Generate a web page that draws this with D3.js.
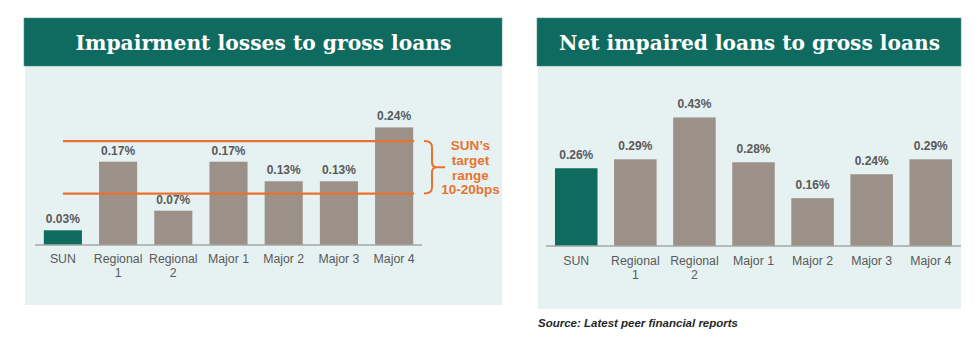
<!DOCTYPE html>
<html>
<head>
<meta charset="utf-8">
<script src="https://cdn.jsdelivr.net/npm/d3@7"></script>
<style>
  html, body { margin: 0; padding: 0; background: #ffffff; }
  svg { display: block; }
</style>
</head>
<body>
<svg id="chart" width="975" height="355"></svg>
<script>
// ---------- data ----------
const categories = ["SUN", "Regional 1", "Regional 2", "Major 1", "Major 2", "Major 3", "Major 4"];
const impairmentLosses = [0.03, 0.17, 0.07, 0.17, 0.13, 0.13, 0.24];
const netImpairedLoans = [0.26, 0.29, 0.43, 0.28, 0.16, 0.24, 0.29];
const targetRange = [0.105, 0.212];
const targetLabel = ["SUN\u2019s", "target", "range", "10-20bps"];
const titles = ["Impairment losses to gross loans", "Net impaired loans to gross loans"];
const sourceNote = "Source: Latest peer financial reports";

// ---------- styles ----------
const C = {
  header: "#0f6b60",
  panel: "#e6f2f2",
  sun: "#0e6b5e",
  peer: "#9c9189",
  text: "#595959",
  orange: "#e9722e",
  axis: "#a6a6a6"
};

const svg = d3.select("#chart");

function catLines(c) {
  const m = c.match(/^(Regional) (\d)$/);
  return m ? [m[1], m[2]] : [c];
}

function panel(opts) {
  const g = svg.append("g");
  // background
  g.append("rect").attr("x", opts.px).attr("y", 66).attr("width", opts.pw).attr("height", opts.ph)
    .attr("fill", C.panel);
  // header
  g.append("rect").attr("x", opts.px - 1).attr("y", 18).attr("width", opts.pw + 1).attr("height", 48)
    .attr("fill", C.header).attr("stroke", "#4f8f86").attr("stroke-width", 0.6);
  g.append("text").attr("x", opts.px + opts.pw / 2).attr("y", 50)
    .attr("text-anchor", "middle").attr("fill", "#ffffff")
    .attr("font-family", "Georgia, 'DejaVu Serif', 'Liberation Serif', serif")
    .attr("font-weight", "bold").attr("font-size", 21)
    .attr("textLength", opts.titleW).attr("lengthAdjust", "spacingAndGlyphs")
    .text(opts.title);

  const x = d3.scaleBand().domain(categories).range(opts.xr)
    .paddingInner(opts.pi).paddingOuter(opts.po);
  const y = d3.scaleLinear().domain([0, 0.5]).range([opts.base, opts.base - 0.5 * opts.ppu]);

  // bars
  g.selectAll("rect.bar").data(opts.values).join("rect").attr("class", "bar")
    .attr("x", (d, i) => x(categories[i]))
    .attr("width", x.bandwidth())
    .attr("y", d => y(d))
    .attr("height", d => y(0) - y(d))
    .attr("fill", (d, i) => i === 0 ? C.sun : C.peer);

  // value labels
  g.selectAll("text.val").data(opts.values).join("text").attr("class", "val")
    .attr("x", (d, i) => x(categories[i]) + x.bandwidth() / 2)
    .attr("y", d => y(d) - opts.labelGap)
    .attr("text-anchor", "middle").attr("fill", C.text)
    .attr("font-family", "Arial, 'Liberation Sans', sans-serif")
    .attr("font-weight", "bold").attr("font-size", 12)
    .text(d => d.toFixed(2) + "%");

  // axis
  const axis = d3.axisBottom(x).tickSize(0).tickPadding(0).tickFormat("");
  const ag = g.append("g").attr("transform", `translate(0,${opts.base})`).call(axis);
  ag.select(".domain").attr("stroke", C.axis).attr("stroke-width", 1.5)
    .attr("d", `M${opts.xr[0]},0H${opts.xr[1]}`);
  ag.selectAll(".tick").each(function(c) {
    const t = d3.select(this).append("text")
      .attr("fill", C.text).attr("text-anchor", "middle")
      .attr("font-family", "Arial, 'Liberation Sans', sans-serif")
      .attr("font-size", 12.3).attr("y", opts.catY);
    catLines(c).forEach((l, k) => {
      t.append("tspan").attr("x", 0).attr("dy", k === 0 ? 0 : 14).text(l);
    });
  });
  return { g, x, y };
}

// ---------- left panel ----------
const L = panel({
  px: 25, pw: 477, ph: 239, title: titles[0], titleW: 376,
  values: impairmentLosses, xr: [35, 422], pi: 0.31, po: 0.16,
  base: 245, ppu: 490, labelGap: 7, catY: 18
});

// target lines
const lx1 = L.x(categories[0]) + L.x.bandwidth() / 2;
const lx2 = L.x(categories[6]) + L.x.bandwidth() + 1;
L.g.selectAll("line.target").data(targetRange).join("line").attr("class", "target")
  .attr("x1", lx1).attr("x2", lx2)
  .attr("y1", d => L.y(d)).attr("y2", d => L.y(d))
  .attr("stroke", C.orange).attr("stroke-width", 2.2);

// brace
const yt = L.y(targetRange[1]), yb = L.y(targetRange[0]), ym = (yt + yb) / 2;
const bx = 424, bv = 432;
L.g.append("path")
  .attr("d", `M${bx},${yt} Q${bv},${yt} ${bv},${yt + 6} L${bv},${ym - 5} Q${bv},${ym} ${bv + 5},${ym} L${bv + 13},${ym}
              M${bv + 5},${ym} Q${bv},${ym} ${bv},${ym + 5} L${bv},${yb - 6} Q${bv},${yb} ${bx},${yb}`)
  .attr("fill", "none").attr("stroke", C.orange).attr("stroke-width", 2);

const tl = L.g.append("text").attr("fill", C.orange).attr("text-anchor", "middle")
  .attr("font-family", "Arial, 'Liberation Sans', sans-serif")
  .attr("font-weight", "bold").attr("font-size", 13.5);
targetLabel.forEach((s, k) => {
  tl.append("tspan").attr("x", 470.5).attr("y", 150 + k * 14.8).text(s);
});

// ---------- right panel ----------
const R = panel({
  px: 538, pw: 423, ph: 243, title: titles[1], titleW: 381,
  values: netImpairedLoans, xr: [546, 961], pi: 0.28, po: 0.152,
  base: 246, ppu: 299, labelGap: 9, catY: 19
});

svg.append("text").attr("x", 538).attr("y", 327)
  .attr("fill", "#262626")
  .attr("font-family", "Arial, 'Liberation Sans', sans-serif")
  .attr("font-weight", "bold").attr("font-style", "italic").attr("font-size", 11)
  .attr("textLength", 200).attr("lengthAdjust", "spacingAndGlyphs")
  .text(sourceNote);
</script>
</body>
</html>
